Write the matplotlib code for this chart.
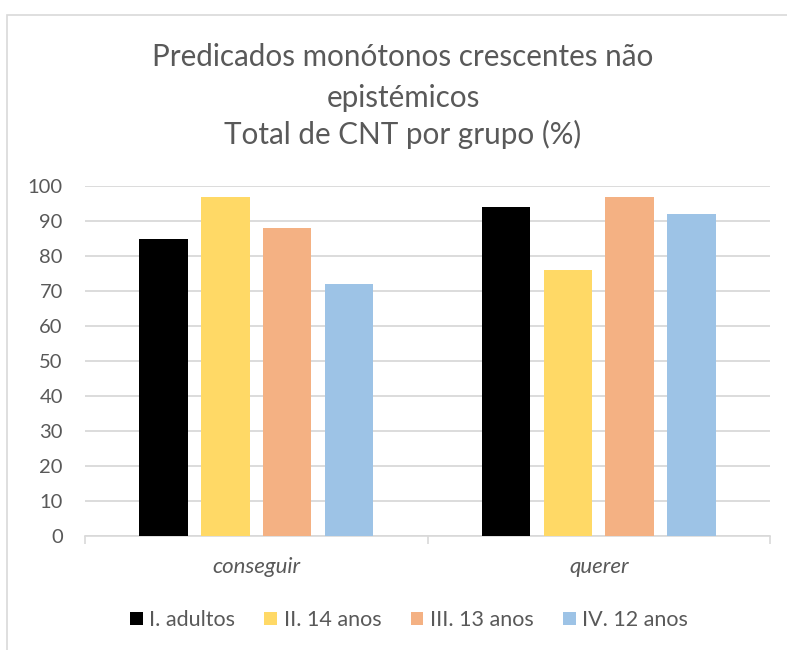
import numpy as np
import matplotlib
matplotlib.use("Agg")
import matplotlib.pyplot as plt
from matplotlib.patches import Rectangle, Patch

categories = ["conseguir", "querer"]
groups = ["I. adultos", "II. 14 anos", "III. 13 anos", "IV. 12 anos"]
adultos = [85, 94]
anos14 = [97, 76]
anos13 = [88, 97]
anos12 = [72, 92]
colors = ["#000000", "#FFD966", "#F4B183", "#9DC3E6"]
title_lines = ["Predicados monótonos crescentes não", "epistémicos", "Total de CNT por grupo (%)"]

plt.rcParams['font.family'] = ['Lato', 'DejaVu Sans']
text_col = "#595959"
grid_col = "#D9D9D9"

fig = plt.figure(figsize=(7.87, 6.5), dpi=100)
ax = fig.add_axes([85 / 787, 1 - 536 / 650, (770 - 85) / 787, (536 - 186) / 650])

# chart frame
fig.patches.append(Rectangle((7 / 787, -0.05), 1.1, 1 - 15 / 650 + 0.05,
                             transform=fig.transFigure, fill=False,
                             edgecolor=grid_col, linewidth=1.2))

x = np.arange(len(categories))
width = 0.1416
step = 0.181
series = [adultos, anos14, anos13, anos12]
for i, vals in enumerate(series):
    ax.bar(x + (i - 1.5) * step, vals, width, color=colors[i], zorder=3)

ax.set_xlim(-0.5, 1.5)
ax.set_ylim(0, 100)
ax.set_yticks(range(0, 101, 10))
ax.yaxis.grid(True, color=grid_col, linewidth=1.3, zorder=0)
ax.tick_params(axis='y', length=0, pad=16, labelsize=14.5, labelcolor=text_col)

ax.set_xticks(x)
ax.set_xticklabels(categories, fontstyle='italic')
ax.tick_params(axis='x', which='major', length=0, pad=15, labelsize=16, labelcolor=text_col)
ax.set_xticks([-0.5, 0.5, 1.5], minor=True)
ax.tick_params(axis='x', which='minor', length=6, color=grid_col, width=1.2)

for s in ['top', 'right', 'left']:
    ax.spines[s].set_visible(False)
ax.spines['bottom'].set_color(grid_col)
ax.spines['bottom'].set_linewidth(1.2)

for line, yy in zip(title_lines, [57, 98, 134]):
    fig.text(403 / 787, 1 - yy / 650, line, ha='center', va='center',
             fontsize=21.3, color=text_col)

handles = [Patch(facecolor=c) for c in colors]
fig.legend(handles, groups, loc='center', bbox_to_anchor=(409 / 787, 1 - 620 / 650),
           ncol=4, frameon=False, fontsize=15.5, labelcolor=text_col,
           handlelength=0.6, handleheight=0.6, handletextpad=0.3, columnspacing=1.35)

fig.savefig("out.png", dpi=100)
